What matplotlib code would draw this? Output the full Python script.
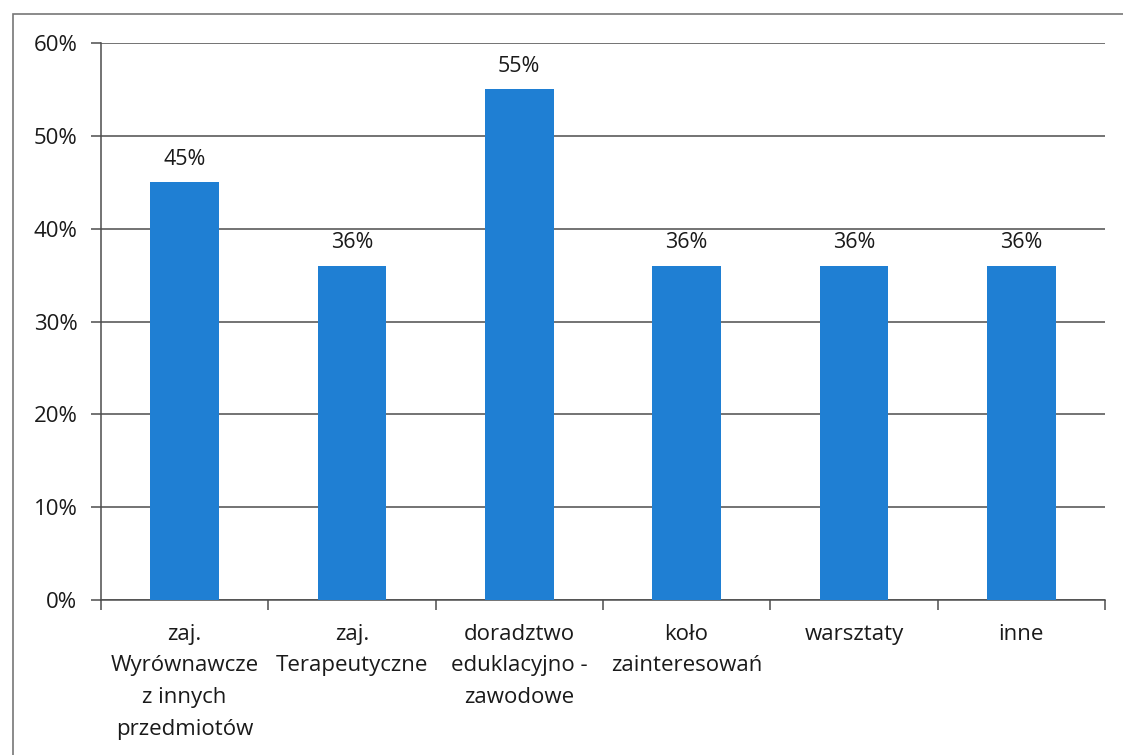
import matplotlib.pyplot as plt
from matplotlib.patches import Rectangle
from matplotlib.ticker import PercentFormatter, FixedLocator
import numpy as np

# dane wykresu
kategorie = ['zaj.\nWyrównawcze\nz innych\nprzedmiotów',
             'zaj.\nTerapeutyczne',
             'doradztwo\neduklacyjno -\nzawodowe',
             'koło\nzainteresowań',
             'warsztaty',
             'inne']
wartosci = [45, 36, 55, 36, 36, 36]
etykiety = ['45%', '36%', '55%', '36%', '36%', '36%']

plt.rcParams['font.family'] = ['Open Sans', 'DejaVu Sans']

fig = plt.figure(figsize=(11.23, 7.55), dpi=100)
ax = fig.add_axes([0.0899, 0.2053, 0.894, 0.7377])

x = np.arange(len(kategorie))
ax.bar(x, wartosci, width=0.41, color='#1f7fd3', zorder=3)

for xi, v, lab in zip(x, wartosci, etykiety):
    ax.annotate(lab, (xi, v), xytext=(0, 9), textcoords='offset points',
                ha='center', va='bottom', fontsize=15.5, color='#1a1a1a')

ax.set_xlim(-0.5, len(kategorie) - 0.5)
ax.set_ylim(0, 60)
ax.set_yticks(range(0, 61, 10))
ax.yaxis.set_major_formatter(PercentFormatter(decimals=0))
ax.grid(axis='y', color='#4d4d4d', linewidth=1.1, zorder=0)

ax.set_xticks(x)
ax.set_xticklabels(kategorie, fontsize=16, linespacing=1.68, color='#1a1a1a')
ax.xaxis.set_minor_locator(FixedLocator(np.arange(-0.5, len(kategorie), 1)))
ax.tick_params(axis='x', which='major', length=0, pad=17)
ax.tick_params(axis='x', which='minor', length=7, width=1.1, color='#4d4d4d')
ax.tick_params(axis='y', length=7, width=1.1, color='#4d4d4d', labelsize=16,
               labelcolor='#1a1a1a', pad=10)

for s in ['top', 'right']:
    ax.spines[s].set_visible(False)
for s in ['left', 'bottom']:
    ax.spines[s].set_color('#4d4d4d')
    ax.spines[s].set_linewidth(1.1)

# ramka wokół wykresu
fig.patches.append(Rectangle((13 / 1123, -0.05), 1.1, 0.05 + 1 - 14 / 755,
                             transform=fig.transFigure, fill=False,
                             edgecolor='#777777', linewidth=1.2))

fig.savefig('out.png', dpi=100)
